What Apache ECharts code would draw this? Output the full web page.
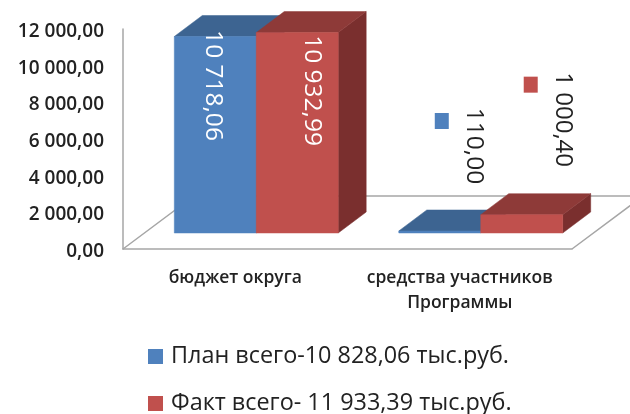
<!DOCTYPE html>
<html><head><meta charset="utf-8">
<style>html,body{margin:0;padding:0;background:#fff}#c{width:630px;height:414px}</style>
<script src="https://cdn.jsdelivr.net/npm/echarts@6/dist/echarts.min.js"></script>
</head><body><div id="c"></div>
<script>
const categories = ['бюджет округа', 'средства участников\nПрограммы'];
const planValues = [10718.06, 110.00];
const factValues = [10932.99, 1000.40];
const planName = 'План всего-10 828,06 тыс.руб.';
const factName = 'Факт всего- 11 933,39 тыс.руб.';
const yTicks = {min: 0, max: 12000, interval: 2000};

const fmt = v => {
  const [a, b] = v.toFixed(2).split('.');
  return a.replace(/\B(?=(\d{3})+$)/g, ' ') + ',' + b;
};
const FONT = '"Open Sans", sans-serif';
const FLOOR = {dx: 71, dy: -53};
const SHIFT = {dx: 21, dy: -16};
const DEPTH = {dx: 28, dy: -21};
const BAR_FRAC = 0.365;

const poly = (pts, fill) => ({type: 'polygon', shape: {points: pts}, style: {fill, stroke: fill, lineWidth: 0.5}});

function barRender(side, cols, labelPos) {
  return function (params, api) {
    const i = api.value(0);
    const band = api.size([1, 0])[0];
    const w = band * BAR_FRAC;
    const base = api.coord([i, 0]);
    const top = api.coord([i, api.value(1)]);
    const xl = base[0] + SHIFT.dx + (side === 0 ? -w : 0);
    const xr = xl + w;
    const yb = base[1] + SHIFT.dy;
    const yt = top[1] + SHIFT.dy;
    const d = DEPTH;
    const children = [
      poly([[xr, yb], [xr + d.dx, yb + d.dy], [xr + d.dx, yt + d.dy], [xr, yt]], cols.side),
      poly([[xl, yt], [xr, yt], [xr + d.dx, yt + d.dy], [xl + d.dx, yt + d.dy]], cols.top),
      poly([[xl, yb], [xr, yb], [xr, yt], [xl, yt]], cols.front)
    ];
    const lp = labelPos[i];
    const cx = (xl + xr) / 2;
    children.push({
      type: 'text', x: cx + lp.dx, y: yt + lp.dy, rotation: -Math.PI / 2,
      style: {text: fmt(api.value(1)), x: 0, y: 0, align: 'center', verticalAlign: 'middle',
        fill: lp.color, font: lp.size + 'px ' + FONT}
    });
    if (lp.key) {
      children.push({type: 'rect',
        shape: {x: cx + lp.key[0] - 7, y: yt + lp.key[1] - 8, width: 14, height: 16},
        style: {fill: cols.front}});
    }
    return {type: 'group', children};
  };
}

const planCols = {front: '#4f81bd', top: '#3d6491', side: '#33557b'};
const factCols = {front: '#c0504d', top: '#8e3a38', side: '#7a2f2e'};
const planLabels = [{dx: -2, dy: 49, color: '#fff', size: 24.5}, {dx: 34, dy: -85, color: '#222', size: 24.5, key: [2, -110]}];
const factLabels = [{dx: 15, dy: 58, color: '#fff', size: 24.5}, {dx: 41, dy: -95, color: '#222', size: 24, key: [9, -130]}];

const legendBase = {
  orient: 'vertical', left: 148, padding: 0, itemWidth: 15, itemHeight: 15,
  icon: 'rect', selectedMode: false,
  textStyle: {fontFamily: FONT, fontSize: 23.4, lineHeight: 22, color: '#222', padding: [0, 0, 0, 3]}
};

const chart = echarts.init(document.getElementById('c'), null, {renderer: 'canvas'});
chart.setOption({
  animation: false,
  backgroundColor: '#fff',
  grid: {left: 123, top: 29, width: 449, height: 220},
  legend: [
    Object.assign({}, legendBase, {top: 345, data: [planName]}),
    Object.assign({}, legendBase, {top: 392, data: [factName]})
  ],
  xAxis: {
    type: 'category', data: categories,
    axisTick: {show: false},
    axisLine: {lineStyle: {color: '#a6a6a6', width: 1.5}},
    axisLabel: {interval: 0, hideOverlap: false, fontFamily: FONT, fontSize: 17.5, fontWeight: 600, color: '#222', margin: 17, lineHeight: 25}
  },
  yAxis: {
    type: 'value', min: yTicks.min, max: yTicks.max, interval: yTicks.interval,
    splitLine: {show: false},
    axisTick: {show: false},
    axisLine: {show: true, lineStyle: {color: '#a6a6a6', width: 1.5}},
    axisLabel: {
      formatter: v => '{a|' + fmt(v) + '}', margin: 19,
      rich: {a: {fontFamily: FONT, fontSize: 19, fontWeight: 600, color: '#222', padding: [5, 0, 0, 0]}}
    }
  },
  series: [
    {
      type: 'custom', name: 'floor', silent: true, z: 1, clip: false,
      data: [[0, 0]], encode: {x: 0, y: 1},
      renderItem(params, api) {
        const band = api.size([1, 0])[0];
        const o = api.coord([0, 0]);
        const l = o[0] - band / 2;
        const r = l + band * categories.length;
        const y = o[1];
        const st = {stroke: '#a6a6a6', lineWidth: 1.5, fill: 'none'};
        return {type: 'group', children: [
          {type: 'polyline', shape: {points: [[l, y], [l + FLOOR.dx, y + FLOOR.dy], [r + FLOOR.dx, y + FLOOR.dy], [r, y]]}, style: st}
        ]};
      }
    },
    {
      type: 'custom', name: planName, z: 2, clip: false, itemStyle: {color: planCols.front},
      data: planValues.map((v, i) => [i, v]), encode: {x: 0, y: 1},
      renderItem: barRender(0, planCols, planLabels)
    },
    {
      type: 'custom', name: factName, z: 3, clip: false, itemStyle: {color: factCols.front},
      data: factValues.map((v, i) => [i, v]), encode: {x: 0, y: 1},
      renderItem: barRender(1, factCols, factLabels)
    }
  ]
});
</script></body></html>
